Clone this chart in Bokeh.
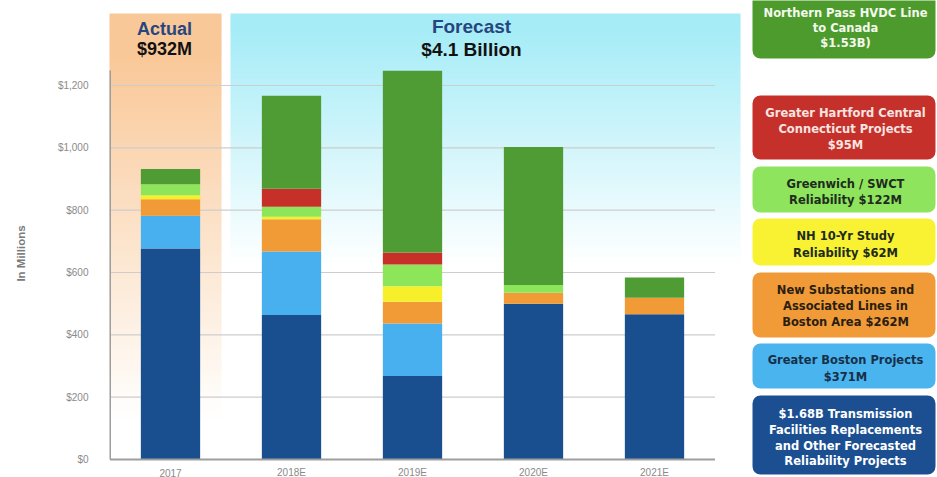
import numpy as np
from bokeh.plotting import figure
from bokeh.models import (ColumnDataSource, Range1d, FixedTicker, NumeralTickFormatter,
                          BoxAnnotation)
from bokeh.layouts import row
from bokeh.core.properties import value
from bokeh.embed import file_html
from bokeh.resources import INLINE

# ---------------- data (in $ millions) ----------------
years = ["2017", "2018E", "2019E", "2020E", "2021E"]
replacement = [677, 464, 268, 500, 466]        # $1.68B Transmission Facilities Replacements ...
greater_boston = [105, 203, 168, 0, 0]         # Greater Boston Projects $371M
new_substations = [53, 104, 70, 35, 53]        # New Substations ... Boston Area $262M
nh_study = [13, 8, 50, 0, 0]                   # NH 10-Yr Study Reliability $62M
greenwich = [35, 32, 70, 25, 0]                # Greenwich / SWCT Reliability $122M
hartford = [0, 58, 38, 0, 0]                   # Greater Hartford Central CT $95M
northern_pass = [49, 298, 583, 443, 65]        # Northern Pass HVDC Line to Canada

y_ticks = [0, 200, 400, 600, 800, 1000, 1200]
actual_title = ["Actual", "$932M"]
forecast_title = ["Forecast", "$4.1 Billion"]
y_label = "In Millions"

series_keys = ["replacement", "greater_boston", "new_substations", "nh_study",
               "greenwich", "hartford", "northern_pass"]
series_colors = ["#1a4f8f", "#49b0ef", "#f09b35", "#f8ef2b", "#8de65a", "#c72f29", "#4f9b34"]

legend_lines = [
    ["Northern Pass HVDC Line", "to Canada", "$1.53B)"],
    ["Greater Hartford Central", "Connecticut Projects", "$95M"],
    ["Greenwich / SWCT", "Reliability $122M"],
    ["NH 10-Yr Study", "Reliability $62M"],
    ["New Substations and", "Associated Lines in", "Boston Area $262M"],
    ["Greater Boston Projects", "$371M"],
    ["$1.68B Transmission", "Facilities Replacements", "and Other Forecasted", "Reliability Projects"],
]
legend_fill = ["#4e9b2d", "#c5302b", "#8ee45c", "#f8f232", "#f19b38", "#4ab4ee", "#1b4f91"]
legend_text_color = ["#f4f9ee", "#f8e4e0", "#1e2b1e", "#1e2b1e", "#2a1e12", "#17304a", "#ffffff"]

# ---------------- layout geometry (screen pixels of the page) ----------------
H = 477
LBL_W = 40
BG_TOP, BASE, FR_LEFT, FR_RIGHT = 13, 459, 109, 745
X0, DX = 170.0, 121.0          # screen x of first category, spacing
PX_PER_UNIT = (BASE - 85) / 1200.0   # $1,200 gridline sits at screen y 85


def X(sx):
    return (sx - X0) / DX


def Y(sy):
    return (BASE - sy) / PX_PER_UNIT


# ---------------- y label panel ----------------
lp = figure(width=LBL_W, height=H, output_backend="svg", toolbar_location=None, title=None,
            x_range=Range1d(0, LBL_W), y_range=Range1d(-H, 0), x_axis_type=None,
            y_axis_type=None, min_border=0)
lp.outline_line_color = None
lp.xgrid.visible = False
lp.ygrid.visible = False
lp.text(x=[20], y=[-253], text=[y_label], angle=np.pi / 2, text_align="center",
        text_baseline="middle", text_font=value("Liberation Sans"), text_font_style="bold",
        text_font_size="11.5px", text_color="#7a7a7a")

# ---------------- main chart ----------------
p = figure(width=FR_RIGHT - LBL_W, height=H, output_backend="svg", toolbar_location=None,
           title=None, x_range=Range1d(X(FR_LEFT), X(FR_RIGHT)), y_range=Range1d(Y(H), Y(0)),
           x_axis_type=None,
           min_border_left=FR_LEFT - LBL_W, min_border_right=0, min_border_top=0,
           min_border_bottom=0)
p.outline_line_color = None
p.xgrid.visible = False
p.ygrid.visible = False
p.background_fill_color = "white"
p.border_fill_color = "white"


def strips(sx0, sx1, rgb, fade_start, fade_end, step=3):
    ys = np.arange(BG_TOP, BASE, step, dtype=float)
    t = np.clip((ys + step / 2 - fade_start) / (fade_end - fade_start), 0, 1)
    cols = []
    for tt in t:
        c = [int(round(v * (1 - tt) + 255 * tt)) for v in rgb]
        cols.append("#%02x%02x%02x" % tuple(c))
    src = ColumnDataSource(dict(top=[Y(v) for v in ys],
                                bottom=[Y(min(v + step + 0.6, BASE)) for v in ys],
                                color=cols))
    p.quad(left=X(sx0), right=X(sx1), top="top", bottom="bottom", fill_color="color",
           line_color=None, source=src)


strips(108, 221, (249, 200, 152), 55, 420)
strips(230, 740, (166, 236, 247), 30, 265)

# gridlines
gl = [t for t in y_ticks if t > 0]
p.segment(x0=-0.5, x1=len(years) - 0.5, y0=gl, y1=gl, line_color="#cdcdcd", line_width=1.2)

# stacked bars
xs = list(range(len(years)))
data = dict(x=xs, replacement=replacement, greater_boston=greater_boston,
            new_substations=new_substations, nh_study=nh_study, greenwich=greenwich,
            hartford=hartford, northern_pass=northern_pass)
src = ColumnDataSource(data)
p.vbar_stack(series_keys, x="x", width=0.49, color=series_colors, line_width=0, source=src)

# axis lines
p.segment(x0=[-0.5], x1=[len(years) - 0.5], y0=[0], y1=[0], line_color="#9e9e9e", line_width=2)
p.segment(x0=[-0.5], x1=[-0.5], y0=[0], y1=[Y(70)], line_color="#9e9e9e", line_width=2)

# category labels under the baseline
p.text(x=xs, y=[Y(472)] * len(years), text=years, text_align="center", text_baseline="middle",
       text_font=value("Liberation Sans"), text_font_size="10px", text_color="#8a8a8a")

# y axis
p.yaxis.ticker = FixedTicker(ticks=y_ticks)
p.yaxis.formatter = NumeralTickFormatter(format="$0,0")
ax = p.yaxis[0]
ax.axis_line_color = None
ax.major_tick_line_color = None
ax.minor_tick_line_color = None
ax.major_tick_out = 0
ax.major_tick_in = 0
ax.minor_tick_out = 0
ax.minor_tick_in = 0
ax.major_label_text_color = "#8a8a8a"
ax.major_label_text_font = "Liberation Sans"
ax.major_label_text_font_size = "10px"
ax.major_label_standoff = 21

# header texts
hdr = ColumnDataSource(dict(
    x=[X(164), X(164), X(471), X(471)],
    y=[Y(28), Y(48), Y(26), Y(49)],
    text=[actual_title[0], actual_title[1], forecast_title[0], forecast_title[1]],
    color=["#27467f", "#111111", "#27467f", "#111111"],
    size=["18px", "18px", "19px", "19px"]))
p.text(x="x", y="y", text="text", text_color="color", text_font_size="size",
       text_font=value("Liberation Sans"), text_font_style="bold", text_align="center",
       text_baseline="middle", source=hdr)

# ---------------- legend panel ----------------
LG_LEFT, LG_RIGHT = FR_RIGHT, 937
lg = figure(width=LG_RIGHT - LG_LEFT, height=H, output_backend="svg", toolbar_location=None,
            title=None, x_range=Range1d(LG_LEFT, LG_RIGHT), y_range=Range1d(-H, 0),
            x_axis_type=None, y_axis_type=None, min_border=0)
lg.outline_line_color = None
lg.xgrid.visible = False
lg.ygrid.visible = False

box_y = [(-12, 58), (95, 159), (166, 212), (218, 265), (272, 337), (343, 388), (395, 474)]
line_y = [[12, 27, 42], [112, 128, 144], [183, 199], [235, 252], [289, 305, 321], [359, 376],
          [413, 429, 445, 460]]
tx, ty, tt, tc = [], [], [], []
for (y0, y1), fill, lines, ys, col in zip(box_y, legend_fill, legend_lines, line_y, legend_text_color):
    lg.add_layout(BoxAnnotation(left=752, right=935, top=-y0, bottom=-y1, fill_color=fill,
                                fill_alpha=1.0, line_color=None, border_radius=8,
                                level="underlay"))
    for s, yy in zip(lines, ys):
        tx.append(845)
        ty.append(-yy)
        tt.append(s)
        tc.append(col)
lg.text(x="x", y="y", text="text", text_color="color",
        source=ColumnDataSource(dict(x=tx, y=ty, text=tt, color=tc)),
        text_font=value("DejaVu Sans"), text_font_style="bold", text_font_size="11.5px",
        text_align="center", text_baseline="middle")

layout = row(lp, p, lg)
open("out.html", "w").write(file_html(layout, INLINE))
